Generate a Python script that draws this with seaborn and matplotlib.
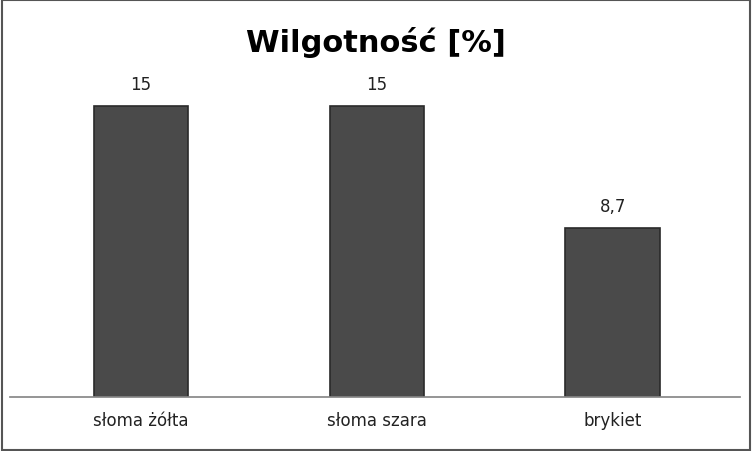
import matplotlib
matplotlib.use("Agg")
import matplotlib.pyplot as plt
import seaborn as sns
import pandas as pd

categories = ["słoma żółta", "słoma szara", "brykiet"]
values = [15, 15, 8.7]
labels = ["15", "15", "8,7"]

sns.set_theme(style="white")
plt.rcParams['font.family'] = ['DejaVu Sans']
fig = plt.figure(figsize=(7.52, 4.52), dpi=100)
ax = fig.add_axes([10/752, 54/452, 730/752, 349/452])
df = pd.DataFrame({"cat": categories, "val": values})
sns.barplot(data=df, x="cat", y="val", color="#4a4a4a", width=0.4, ax=ax,
            edgecolor="#2a2a2a", linewidth=1.2)
for p, t in zip(ax.patches, labels):
    ax.text(p.get_x() + p.get_width()/2, p.get_height() + 0.7, t,
            ha="center", va="bottom", fontsize=12, color="#222222")
ax.set_xlim(-0.555, 2.54)
ax.set_ylim(0, 18)
ax.set_xlabel(""); ax.set_ylabel("")
ax.set_yticks([])
ax.tick_params(axis="x", labelsize=12, length=0, pad=10, colors="#222222")
for s in ["top", "right", "left"]:
    ax.spines[s].set_visible(False)
ax.spines["bottom"].set_color("#888888")
fig.text(0.5, 0.905, "Wilgotność [%]", ha="center", va="center",
         fontsize=22, fontweight="bold", color="black")
fig.patches.append(plt.Rectangle((0.002, 0.003), 0.995, 0.994, transform=fig.transFigure,
                                 fill=False, edgecolor="#555555", linewidth=1.5))
fig.savefig("out.png", dpi=100)
